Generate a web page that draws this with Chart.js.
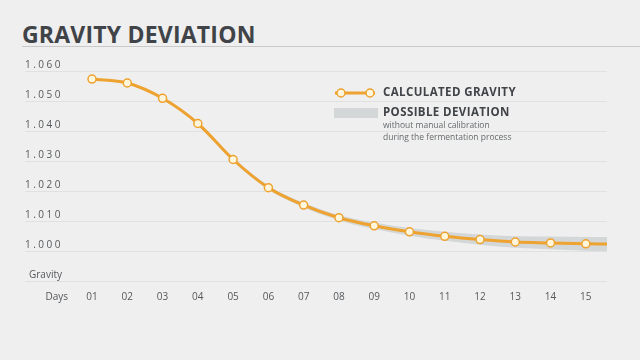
<!DOCTYPE html>
<html>
<head>
<meta charset="utf-8">
<script src="https://cdn.jsdelivr.net/npm/chart.js@4/dist/chart.umd.min.js"></script>
<style>
  html, body { margin: 0; padding: 0; background: #efefef; }
  #wrap { position: relative; width: 640px; height: 360px; overflow: hidden; }
  #title {
    position: absolute; left: 22px; top: 18px;
    font: 700 23px "Open Sans", sans-serif; color: #404347; letter-spacing: 0.2px;
  }
  #rule { position: absolute; left: 22px; right: 0; top: 46px; height: 1px; background: #c9c9c9; }
  canvas { position: absolute; left: 0; top: 0; }
</style>
</head>
<body>
<div id="wrap">
  <div id="title">GRAVITY DEVIATION</div>
  <div id="rule"></div>
  <canvas id="gravity-chart" width="640" height="360"></canvas>
</div>
<script>
// days of fermentation (last entry is the tail of the curve past day 15)
var days = [1, 2, 3, 4, 5, 6, 7, 8, 9, 10, 11, 12, 13, 14, 15, 15.6];
var gravity = [1.0573, 1.0560, 1.0509, 1.0425, 1.0305, 1.0211, 1.0153, 1.0111,
               1.0084, 1.0064, 1.0049, 1.0038, 1.0030, 1.0027, 1.0024, 1.0023];
// +/- spread of the possible deviation band
var deviation = [0.0002, 0.0003, 0.0004, 0.0005, 0.0006, 0.0007, 0.0008, 0.0009,
                 0.0011, 0.0013, 0.0015, 0.0017, 0.0019, 0.0021, 0.0023, 0.0024];
var dayTicks = [0, 1, 2, 3, 4, 5, 6, 7, 8, 9, 10, 11, 12, 13, 14, 15];
var dayLabels = ['Days', '01', '02', '03', '04', '05', '06', '07', '08', '09', '10', '11', '12', '13', '14', '15'];
var gravityMin = 0.990, gravityMax = 1.060, gravityStep = 0.010;

var orange = '#eea22f';
var band = '#d4d7d7';
var textDark = '#404347';

function pts(values) {
  return days.map(function (d, i) { return { x: d, y: values[i] }; });
}
var upper = gravity.map(function (g, i) { return g + deviation[i]; });
var lower = gravity.map(function (g, i) { return g - deviation[i]; });

var legendPlugin = {
  id: 'gravityLegend',
  afterDatasetsDraw: function (chart) {
    // spaced digits on the gravity axis
    chart.ctx.letterSpacing = '2.5px';
  },
  afterDraw: function (chart) {
    var ctx = chart.ctx;
    ctx.save();
    ctx.letterSpacing = '0px';
    ctx.strokeStyle = orange;
    ctx.lineWidth = 3;
    ctx.beginPath(); ctx.moveTo(335, 93); ctx.lineTo(375, 93); ctx.stroke();
    [341, 370].forEach(function (cx) {
      ctx.beginPath(); ctx.arc(cx, 93, 4, 0, Math.PI * 2);
      ctx.fillStyle = '#fff6dc'; ctx.fill();
      ctx.lineWidth = 1.5; ctx.strokeStyle = orange; ctx.stroke();
    });
    ctx.fillStyle = band;
    ctx.fillRect(334, 108, 44, 10);
    ctx.fillStyle = textDark;
    ctx.textBaseline = 'middle';
    ctx.letterSpacing = '0.4px';
    ctx.font = '700 11.5px "Open Sans", sans-serif';
    ctx.fillText('CALCULATED GRAVITY', 383, 93);
    ctx.fillText('POSSIBLE DEVIATION', 383, 113);
    ctx.letterSpacing = '0px';
    ctx.fillStyle = '#666a6d';
    ctx.font = '8.5px "Open Sans", sans-serif';
    ctx.fillText('without manual calibration', 383, 126);
    ctx.fillText('during the fermentation process', 383, 138);
    ctx.restore();
  }
};

var ctx = document.getElementById('gravity-chart').getContext('2d');
var gravityChart = new Chart(ctx, {
  type: 'line',
  plugins: [legendPlugin],
  data: {
    datasets: [
      { label: 'upper', data: pts(upper), borderWidth: 0, pointRadius: 0, fill: 1, order: 1,
        backgroundColor: band, cubicInterpolationMode: 'monotone' },
      { label: 'lower', data: pts(lower), borderWidth: 0, pointRadius: 0, fill: false, order: 1,
        cubicInterpolationMode: 'monotone' },
      { label: 'CALCULATED GRAVITY', data: pts(gravity), borderColor: orange, borderWidth: 3,
        cubicInterpolationMode: 'monotone', fill: false, order: 0,
        pointRadius: function (c) { return c.dataIndex === days.length - 1 ? 0 : 4; },
        pointBackgroundColor: '#fff6dc', pointBorderColor: orange, pointBorderWidth: 1.5 }
    ]
  },
  options: {
    responsive: false,
    animation: false,
    layout: { padding: { left: 25, right: 33, top: 71, bottom: 55 } },
    plugins: { legend: { display: false }, tooltip: { enabled: false } },
    scales: {
      x: {
        type: 'linear', min: -0.9, max: 15.6,
        afterBuildTicks: function (s) { s.ticks = dayTicks.map(function (v) { return { value: v }; }); },
        grid: { display: false }, border: { display: false },
        ticks: {
          padding: 2, color: '#55585b', font: { family: 'Open Sans', size: 10 },
          callback: function (v, i) { return dayLabels[i]; }
        }
      },
      y: {
        min: gravityMin, max: gravityMax,
        grid: { color: '#e1e1e1', drawTicks: false }, border: { display: false },
        ticks: {
          stepSize: gravityStep, mirror: true, padding: 0, labelOffset: -6, z: 1,
          color: '#55585b', font: { family: 'Open Sans', size: 10 },
          callback: function (v) { return v < gravityMin + gravityStep / 2 ? '' : v.toFixed(3); }
        },
        afterFit: function (s) { s.width = 0; }
      },
      y2: {
        position: 'left', min: gravityMin, max: gravityMax,
        grid: { display: false }, border: { display: false },
        ticks: {
          stepSize: gravityStep, mirror: true, padding: 4, labelOffset: -6,
          color: '#55585b', font: { family: 'Open Sans', size: 10 },
          callback: function (v) { return v < gravityMin + gravityStep / 2 ? 'Gravity' : ''; }
        },
        afterFit: function (s) { s.width = 0; }
      }
    }
  }
});
</script>
</body>
</html>
